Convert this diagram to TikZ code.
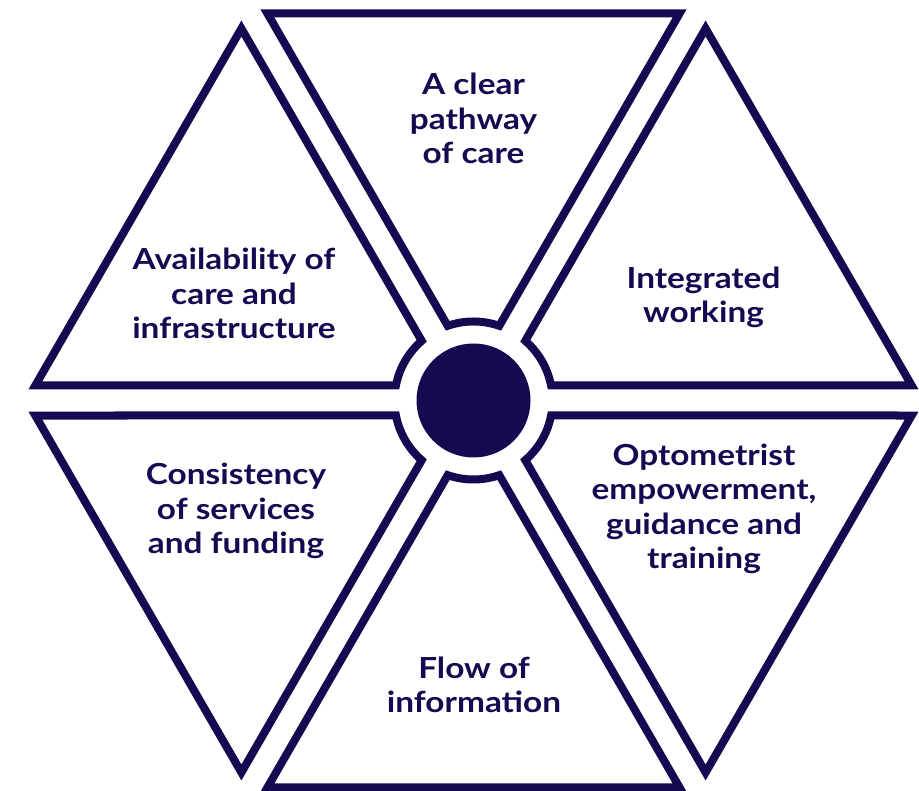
\documentclass[tikz,border=0pt]{standalone}
\usepackage{fontspec}
\setmainfont{Lato}[FakeStretch=1.15]
\definecolor{navy}{RGB}{20,10,82}
\begin{document}
\begin{tikzpicture}[x=1pt,y=1pt]
\useasboundingbox (0,0) rectangle (919,791);
\tikzset{
  segment/.style={draw=navy, fill=white, line width=8pt, line join=miter, miter limit=10},
  label/.style={text=navy, font={\fontsize{29}{34.6}\selectfont\bfseries}, align=center, anchor=base, inner sep=0pt},
}
\coordinate (c) at (473.5pt,390.5pt);
% six triangular segments of the hexagon, each cut by a ring around the hub
\foreach \b in {90,30,-30,-90,-150,150} {
  \draw[segment, shift={(c)}, rotate=\b]
    (387pt,-206.1pt) -- (387pt,206.1pt) -- (74.67pt,25.79pt)
    arc[start angle=19.05, end angle=-19.05, radius=79pt] -- cycle;
}
\node[circle, fill=navy, minimum size=114pt, inner sep=0pt] (hub) at (c) {};
% labels (anchored at the baseline of the last line)
\node[label] (top) at (473.5pt,627pt) {A clear\\pathway\\of care};
\node[label] (topright) at (703.5pt,468pt) {Integrated\\working};
\node[label] (botright) at (704pt,222pt) {Optometrist\\empowerment,\\guidance and\\training};
\node[label] (bottom) at (474pt,78pt) {Flow of\\information};
\node[label] (botleft) at (236pt,237pt) {Consistency\\of services\\and funding};
\node[label] (topleft) at (234pt,452pt) {Availability of\\care and\\infrastructure};
\end{tikzpicture}
\end{document}
